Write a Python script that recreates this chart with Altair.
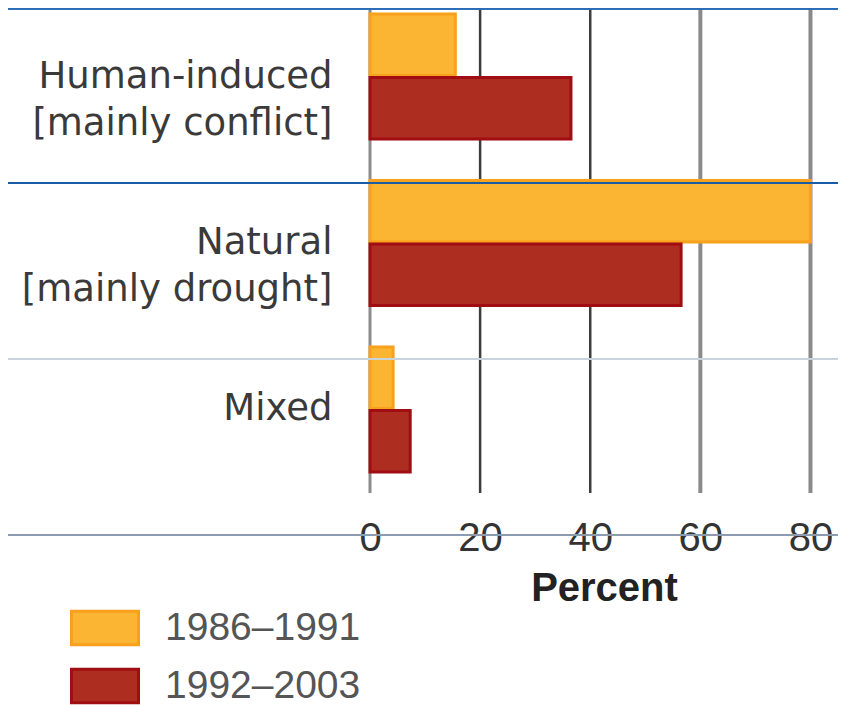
import altair as alt
import pandas as pd

# ---- data ----
categories = ["Human-induced [mainly conflict]", "Natural [mainly drought]", "Mixed"]
periods = ["1986–1991", "1992–2003"]
share_1986_1991 = [15.5, 80.0, 4.2]
share_1992_2003 = [36.5, 56.5, 7.3]
x_ticks = [0, 20, 40, 60, 80]

rows = []
for cat, a, b in zip(categories, share_1986_1991, share_1992_2003):
    rows.append({"cause": cat, "period": periods[0], "pct": a})
    rows.append({"cause": cat, "period": periods[1], "pct": b})
df = pd.DataFrame(rows)
grid_df = pd.DataFrame({"tick": x_ticks})

W, H = 468, 485
xscale = alt.Scale(domain=[0, 85], nice=False, zero=True)
xaxis = alt.Axis(
    values=x_ticks, grid=False, domain=False, ticks=False,
    labelFont="Liberation Sans", labelFontSize=40, labelColor="#333333",
    labelPadding=25, labelFlush=False,
    title="Percent", titleFont="Liberation Sans", titleFontSize=40,
    titleFontWeight="bold", titleColor="#222222", titlePadding=10,
)

legend_opts = dict(
    title=None, orient="none", legendX=-300, legendY=585, padding=0,
    symbolType="M-1,-0.5H1V0.5H-1Z", symbolSize=4489, symbolStrokeWidth=3,
    symbolOpacity=1,
    labelFont="Liberation Sans", labelFontSize=39, labelColor="#555555",
    labelOffset=25, rowPadding=-13, labelLimit=0,
)

bars = alt.Chart(df).mark_bar(strokeWidth=3, strokeJoin="miter", opacity=1).encode(
    x=alt.X("pct:Q", scale=xscale, axis=xaxis),
    y=alt.Y(
        "cause:N",
        sort=categories,
        scale=alt.Scale(paddingInner=0.249, paddingOuter=0.081, align=0.222),
        axis=alt.Axis(
            title=None, domain=False, ticks=False,
            labelExpr="split(replace(datum.label, ' [', '|['), '|')",
            labelFont="DejaVu Sans", labelFontSize=37, labelColor="#3a3a3a",
            labelPadding=38, labelLineHeight=47, labelLimit=0,
        ),
    ),
    yOffset=alt.YOffset("period:N", sort=periods,
                        scale=alt.Scale(paddingInner=0.03, paddingOuter=0)),
    color=alt.Color(
        "period:N", sort=periods,
        scale=alt.Scale(domain=periods, range=["#fbb532", "#ae2d21"]),
        legend=alt.Legend(**legend_opts),
    ),
    stroke=alt.Stroke(
        "period:N", sort=periods,
        scale=alt.Scale(domain=periods, range=["#f8a11c", "#a00d13"]),
        legend=alt.Legend(**legend_opts),
    ),
)

grid_zero = alt.Chart(grid_df).transform_filter("datum.tick == 0").mark_rule(
    color="#8c8c8c", strokeWidth=3
).encode(x=alt.X("tick:Q", scale=xscale, axis=xaxis))

grid_dark = alt.Chart(grid_df).transform_filter("datum.tick == 20 || datum.tick == 40").mark_rule(
    color="#3d3d3d", strokeWidth=2.5
).encode(x=alt.X("tick:Q", scale=xscale, axis=xaxis))

grid_gray = alt.Chart(grid_df).transform_filter("datum.tick >= 60").mark_rule(
    color="#8a8a8a", strokeWidth=4
).encode(x=alt.X("tick:Q", scale=xscale, axis=xaxis))


def sep(ypix, color, width):
    return alt.Chart(grid_df).mark_rule(color=color, strokeWidth=width).encode(
        x=alt.value(-362), x2=alt.value(W), y=alt.value(ypix)
    )


seps = [
    sep(0.5, "#2a6db5", 2),
    sep(175, "#1d5da6", 1.5),
    sep(351, "#c9d3dc", 1.5),
    sep(527, "#8c9db0", 1.5),
]

chart = alt.layer(grid_zero, grid_dark, grid_gray, bars, *seps).properties(
    width=W, height=H,
    autosize=alt.AutoSizeParams(type="none"),
    padding={"left": 362, "top": 0, "right": 0, "bottom": 212},
).configure_view(stroke=None)

chart.save("out.html", embed_options={"renderer": "svg", "actions": False})
